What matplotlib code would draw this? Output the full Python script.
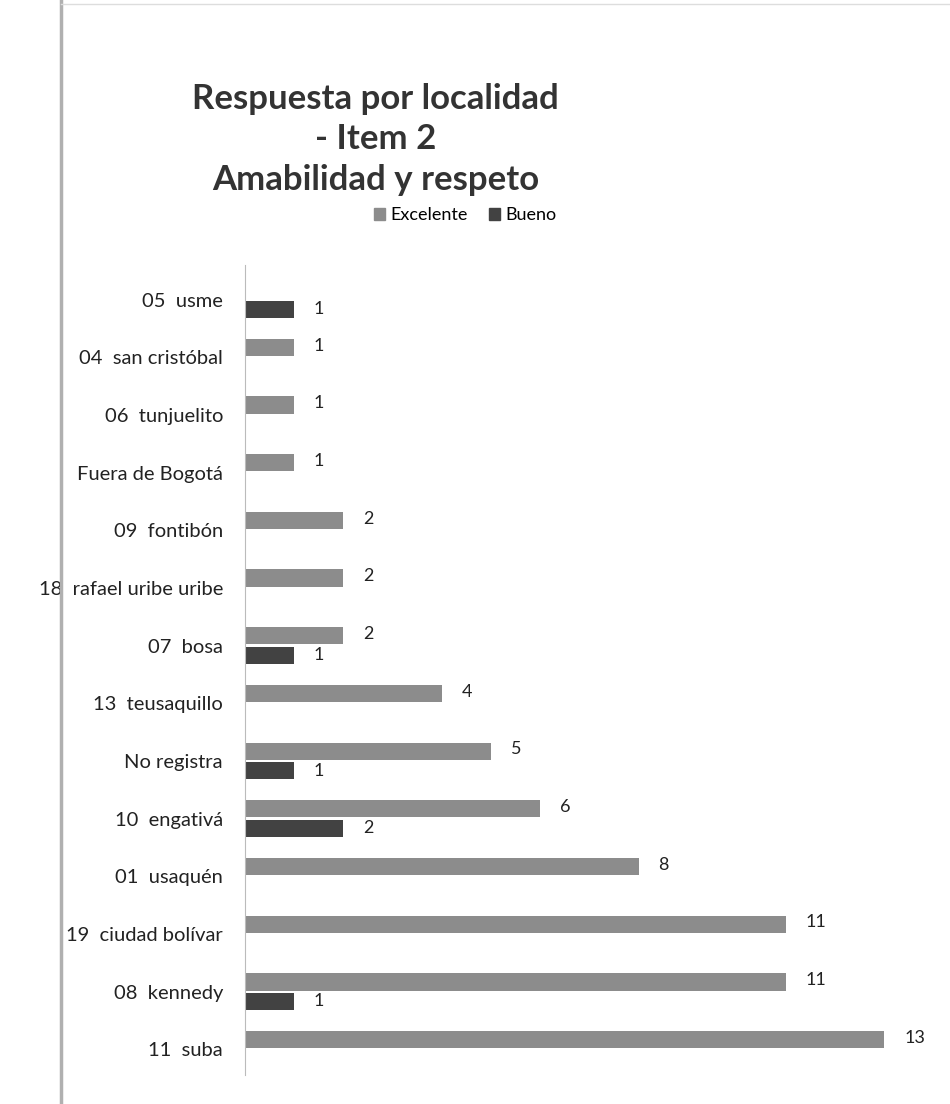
import matplotlib.pyplot as plt
from matplotlib.lines import Line2D
import numpy as np

plt.rcParams['font.family'] = ['Lato', 'DejaVu Sans']

# categories top to bottom
localidades = ['05  usme', '04  san cristóbal', '06  tunjuelito', 'Fuera de Bogotá',
               '09  fontibón', '18  rafael uribe uribe', '07  bosa', '13  teusaquillo',
               'No registra', '10  engativá', '01  usaquén', '19  ciudad bolívar',
               '08  kennedy', '11  suba']
excelente = [0, 1, 1, 1, 2, 2, 2, 4, 5, 6, 8, 11, 11, 13]
bueno = [1, 0, 0, 0, 0, 0, 1, 0, 1, 2, 0, 0, 1, 0]

col_exc = '#8c8c8c'
col_bue = '#424242'

fig = plt.figure(figsize=(9.5, 11.04), dpi=100)
ax = fig.add_axes([0.258, 0.026, 0.73, 0.734])

y = np.arange(len(localidades))
h = 0.3
off = 0.17

for i in range(len(localidades)):
    if excelente[i] > 0:
        ax.barh(y[i] - off, excelente[i], height=h, color=col_exc)
        ax.text(excelente[i] + 0.4, y[i] - off - 0.03, str(excelente[i]),
                va='center', ha='left', fontsize=13, color='#222222')
    if bueno[i] > 0:
        ax.barh(y[i] + off, bueno[i], height=h, color=col_bue)
        ax.text(bueno[i] + 0.4, y[i] + off, str(bueno[i]),
                va='center', ha='left', fontsize=13, color='#222222')

ax.set_yticks(y)
ax.set_yticklabels(localidades, fontsize=14.5, color='#222222')
ax.tick_params(axis='y', length=0, pad=16)
ax.set_xticks([])
ax.set_xlim(0, 14.1)
ax.set_ylim(13.45, -0.6)
for s in ['top', 'right', 'bottom']:
    ax.spines[s].set_visible(False)
ax.spines['left'].set_color('#bbbbbb')
ax.spines['left'].set_linewidth(0.8)

fig.text(0.395, 0.874, 'Respuesta por localidad\n- Item 2\nAmabilidad y respeto',
         ha='center', va='center', fontsize=25, fontweight='bold',
         color='#333333', linespacing=1.33)

handles = [plt.Rectangle((0, 0), 1, 1, color=col_exc),
           plt.Rectangle((0, 0), 1, 1, color=col_bue)]
fig.legend(handles, ['Excelente', 'Bueno'], loc='center', bbox_to_anchor=(0.49, 0.805),
           ncol=2, frameon=False, fontsize=13, handlelength=0.6, handleheight=0.6,
           handletextpad=0.3, columnspacing=1.2)

# scanned page edge
fig.add_artist(Line2D([0.064, 0.064], [0.0, 1.0], color='#b0b0b0', lw=2.5))
fig.add_artist(Line2D([0.064, 1.0], [0.996, 0.996], color='#dddddd', lw=1))

fig.savefig('out.png', dpi=100)
